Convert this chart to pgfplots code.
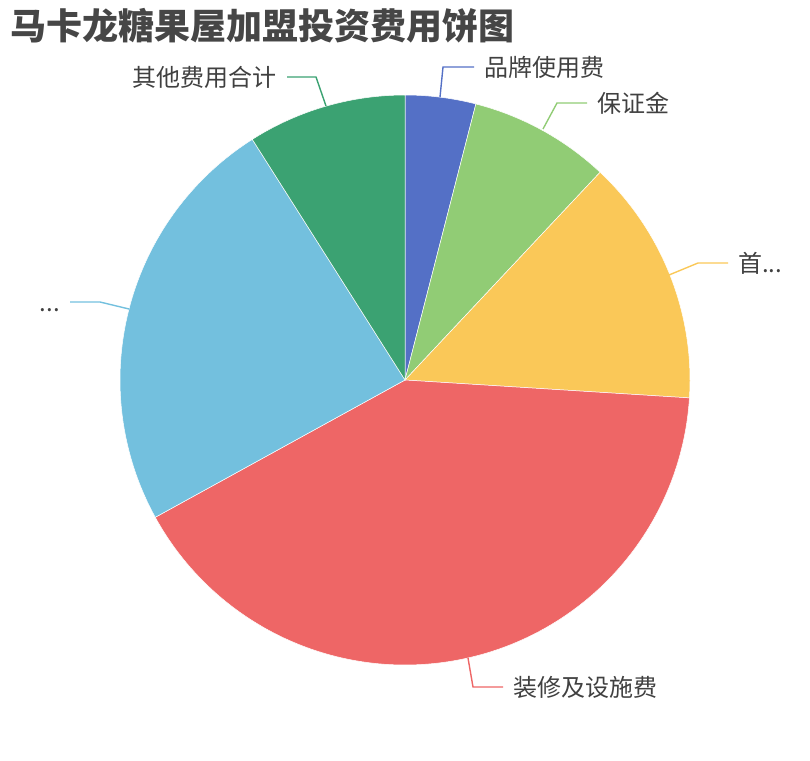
\documentclass[border=0pt]{standalone}
\usepackage{pgfplots}
\pgfplotsset{compat=1.18}
\usepackage{fontspec}
\setmainfont{Noto Sans CJK SC}
\definecolor{c1}{HTML}{5470C6}
\definecolor{c2}{HTML}{91CC75}
\definecolor{c3}{HTML}{FAC858}
\definecolor{c4}{HTML}{EE6666}
\definecolor{c5}{HTML}{73C0DE}
\definecolor{c6}{HTML}{3BA272}
\definecolor{titlec}{HTML}{464646}
\definecolor{labc}{HTML}{404040}
% values (share of the investment)
\def\vA{2}\def\vB{4}\def\vC{7}\def\vD{20.5}\def\vE{12}\def\vF{4.5}
\pgfmathsetmacro\tot{\vA+\vB+\vC+\vD+\vE+\vF}
\pgfmathsetmacro\aA{0}
\pgfmathsetmacro\aB{\aA+360*\vA/\tot}
\pgfmathsetmacro\aC{\aB+360*\vB/\tot}
\pgfmathsetmacro\aD{\aC+360*\vC/\tot}
\pgfmathsetmacro\aE{\aD+360*\vD/\tot}
\pgfmathsetmacro\aF{\aE+360*\vE/\tot}
\pgfmathsetmacro\aG{\aF+360*\vF/\tot}
\tikzset{lab/.style={font=\fontsize{24}{28}\selectfont, text=labc, inner sep=0pt, text height=21pt, text depth=3pt}}
\begin{document}
\begin{tikzpicture}
\begin{axis}[scale only axis, width=810pt, height=760pt,
  xmin=0, xmax=810, ymin=0, ymax=760, y dir=reverse,
  hide axis, clip=false]
\addplot[draw=none] coordinates {(0,0) (810,760)};
\addplot[fill=c1, draw=white, line width=0.5pt, domain=\aA:\aB, samples=40, variable=\t] ({405+285*sin(t)},{380-285*cos(t)}) -- (axis cs:405,380) -- cycle;
\addplot[fill=c2, draw=white, line width=0.5pt, domain=\aB:\aC, samples=40, variable=\t] ({405+285*sin(t)},{380-285*cos(t)}) -- (axis cs:405,380) -- cycle;
\addplot[fill=c3, draw=white, line width=0.5pt, domain=\aC:\aD, samples=60, variable=\t] ({405+285*sin(t)},{380-285*cos(t)}) -- (axis cs:405,380) -- cycle;
\addplot[fill=c4, draw=white, line width=0.5pt, domain=\aD:\aE, samples=120, variable=\t] ({405+285*sin(t)},{380-285*cos(t)}) -- (axis cs:405,380) -- cycle;
\addplot[fill=c5, draw=white, line width=0.5pt, domain=\aE:\aF, samples=80, variable=\t] ({405+285*sin(t)},{380-285*cos(t)}) -- (axis cs:405,380) -- cycle;
\addplot[fill=c6, draw=white, line width=0.5pt, domain=\aF:\aG, samples=40, variable=\t] ({405+285*sin(t)},{380-285*cos(t)}) -- (axis cs:405,380) -- cycle;
% leader lines
\addplot[c1, line width=1.4pt] coordinates {(440,97) (443,67) (474,67)};
\addplot[c2, line width=1.4pt] coordinates {(543,129) (557,103) (587,103)};
\addplot[c3, line width=1.4pt] coordinates {(669,275) (698,263) (728,263)};
\addplot[c4, line width=1.4pt] coordinates {(468,658) (473,687) (503,687)};
\addplot[c5, line width=1.4pt] coordinates {(129,309) (100,302) (70,302)};
\addplot[c6, line width=1.4pt] coordinates {(326,106) (316,77) (287,77)};
% labels
\node[lab, anchor=west] at (axis cs:484,67) {品牌使用费};
\node[lab, anchor=west] at (axis cs:597,103) {保证金};
\node[lab, anchor=west] at (axis cs:738,263) {首...};
\node[lab, anchor=west] at (axis cs:513,687) {装修及设施费};
\node[lab, anchor=east] at (axis cs:60,302) {...};
\node[lab, anchor=east] at (axis cs:277,77) {其他费用合计};
\node[font=\fontsize{36}{40}\selectfont\bfseries, text=titlec, inner sep=0pt, text height=31.7pt, text depth=4.3pt, anchor=west] at (axis cs:10,26) {马卡龙糖果屋加盟投资费用饼图};
\end{axis}
\end{tikzpicture}
\end{document}
